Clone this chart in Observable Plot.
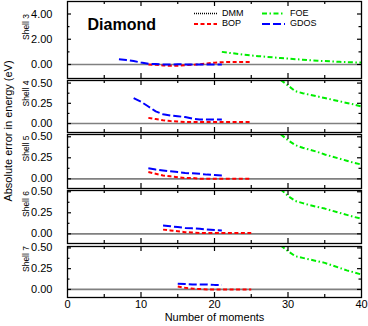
<!DOCTYPE html>
<html><head><meta charset="utf-8">
<script src="https://cdn.jsdelivr.net/npm/d3@7"></script>
<script src="https://cdn.jsdelivr.net/npm/@observablehq/plot@0.6"></script>
<style>
body{margin:0;background:#fff;font-family:"Liberation Sans",Arial,Helvetica,sans-serif;}
#chart{position:relative;width:368px;height:326px;overflow:hidden;background:#fff;}
</style></head><body><div id="chart"></div>
<script>
// ---- data ----
const shellLabels = ["Shell 3", "Shell 4", "Shell 5", "Shell 6", "Shell 7"];
const xTickLabels = [0, 10, 20, 30, 40];
const seriesNames = ["DMM", "BOP", "FOE", "GDOS"];

const dmmX = [0, 10, 20, 30, 40];
const dmmY = [0, 0, 0, 0, 0];

const bopX3 = [11, 12, 13, 14, 15, 16, 17, 18, 19, 20, 21, 22, 23, 24, 25];
const bopY3 = [0.0, -0.02, -0.08, -0.1, -0.1, -0.06, -0.02, 0.02, 0.08, 0.14, 0.18, 0.2, 0.2, 0.2, 0.2];
const gdosX3 = [7, 8, 9, 10, 11, 12, 13, 14, 15, 16, 17, 18, 19, 20, 21];
const gdosY3 = [0.42, 0.35, 0.28, 0.15, 0.06, 0.03, 0.0, 0.0, 0.02, 0.0, 0.0, 0.0, 0.0, 0.0, 0.0];
const foeX3 = [21, 22, 23, 24, 25, 26, 27, 28, 29, 30, 31, 32, 33, 34, 35, 36, 37, 38, 39, 40];
const foeY3 = [1.0, 0.92, 0.85, 0.78, 0.72, 0.66, 0.61, 0.56, 0.51, 0.47, 0.42, 0.38, 0.34, 0.3, 0.27, 0.24, 0.21, 0.19, 0.17, 0.15];

const bopX4 = [11, 12, 13, 14, 15, 16, 17, 18, 19, 20, 21, 22, 23, 24, 25];
const bopY4 = [0.07, 0.055, 0.04, 0.03, 0.025, 0.02, 0.02, 0.02, 0.02, 0.02, 0.02, 0.02, 0.02, 0.02, 0.02];
const gdosX4 = [9, 10, 11, 12, 13, 14, 15, 16, 17, 18, 19, 20, 21];
const gdosY4 = [0.315, 0.27, 0.21, 0.15, 0.115, 0.1, 0.09, 0.08, 0.06, 0.05, 0.05, 0.05, 0.05];
const foeX4 = [29, 30, 31, 32, 33, 34, 35, 36, 37, 38, 39, 40];
const foeY4 = [0.54, 0.47, 0.40, 0.375, 0.355, 0.335, 0.315, 0.295, 0.275, 0.255, 0.235, 0.21];

const bopX5 = [11, 12, 13, 14, 15, 16, 17, 18, 19, 20, 21, 22, 23, 24, 25];
const bopY5 = [0.08, 0.06, 0.04, 0.03, 0.02, 0.01, 0.01, 0.0, 0.0, 0.0, 0.0, 0.0, 0.0, 0.0, 0.0];
const gdosX5 = [11, 12, 13, 14, 15, 16, 17, 18, 19, 20, 21];
const gdosY5 = [0.125, 0.11, 0.1, 0.09, 0.08, 0.07, 0.065, 0.06, 0.05, 0.045, 0.04];
const foeX5 = [29, 30, 31, 32, 33, 34, 35, 36, 37, 38, 39, 40];
const foeY5 = [0.53, 0.46, 0.40, 0.37, 0.345, 0.32, 0.29, 0.265, 0.24, 0.215, 0.19, 0.17];

const bopX6 = [13, 14, 15, 16, 17, 18, 19, 20, 21, 22, 23, 24, 25];
const bopY6 = [0.05, 0.04, 0.03, 0.02, 0.015, 0.01, 0.01, 0.01, 0.01, 0.01, 0.01, 0.01, 0.01];
const gdosX6 = [13, 14, 15, 16, 17, 18, 19, 20, 21];
const gdosY6 = [0.1, 0.09, 0.08, 0.07, 0.065, 0.06, 0.05, 0.045, 0.04];
const foeX6 = [29, 30, 31, 32, 33, 34, 35, 36, 37, 38, 39, 40];
const foeY6 = [0.53, 0.45, 0.39, 0.365, 0.34, 0.32, 0.3, 0.275, 0.25, 0.225, 0.2, 0.18];

const bopX7 = [15, 16, 17, 18, 19, 20, 21, 22, 23, 24, 25];
const bopY7 = [0.035, 0.02, 0.01, 0.005, 0.0, 0.0, 0.0, 0.0, 0.0, 0.0, 0.0];
const gdosX7 = [15, 16, 17, 18, 19, 20, 21];
const gdosY7 = [0.07, 0.065, 0.06, 0.06, 0.06, 0.055, 0.055];
const foeX7 = [29, 30, 31, 32, 33, 34, 35, 36, 37, 38, 39, 40];
const foeY7 = [0.53, 0.46, 0.40, 0.38, 0.36, 0.34, 0.32, 0.29, 0.26, 0.23, 0.205, 0.18];

// ---- build ----
const pts = (xs, ys) => xs.map((x, i) => ({x, y: ys[i]}));
const FONT = "Liberation Sans, Arial, Helvetica, sans-serif";
const colors = {DMM: "#000000", BOP: "#ff0000", FOE: "#00ee00", GDOS: "#0000ff"};
const dashes = {DMM: "1 1", BOP: "4 2.5", FOE: "5 2.5 1.5 2.5", GDOS: "8 3"};
const widths = {DMM: 1.7, BOP: 2, FOE: 2, GDOS: 2};

const panels = [
  {top: 1, bottom: 78, domain: [-1.11, 4.99], major: [0, 2, 4], minor: [1, 3],
   bop: pts(bopX3, bopY3), gdos: pts(gdosX3, gdosY3), foe: pts(foeX3, foeY3)},
  {top: 80, bottom: 132, domain: [-0.111, 0.532], major: [0, 0.25, 0.5], minor: [0.125, 0.375],
   bop: pts(bopX4, bopY4), gdos: pts(gdosX4, gdosY4), foe: pts(foeX4, foeY4)},
  {top: 134, bottom: 188, domain: [-0.115, 0.527], major: [0, 0.25, 0.5], minor: [0.125, 0.375],
   bop: pts(bopX5, bopY5), gdos: pts(gdosX5, gdosY5), foe: pts(foeX5, foeY5)},
  {top: 190, bottom: 243, domain: [-0.115, 0.515], major: [0, 0.25, 0.5], minor: [0.125, 0.375],
   bop: pts(bopX6, bopY6), gdos: pts(gdosX6, gdosY6), foe: pts(foeX6, foeY6)},
  {top: 246, bottom: 297, domain: [-0.097, 0.517], major: [0, 0.25, 0.5], minor: [0.125, 0.375],
   bop: pts(bopX7, bopY7), gdos: pts(gdosX7, gdosY7), foe: pts(foeX7, foeY7)}
];

const W = 368, ML = 67, MR = 7, PAD = 2;
const FW = W - ML - MR;
const xMajor = [10, 20, 30], xMinor = [5, 15, 25, 35];
const chart = document.getElementById("chart");
const dmm = pts(dmmX, dmmY);

panels.forEach((p, i) => {
  const last = i === panels.length - 1;
  const fh = p.bottom - p.top;
  const mb = last ? PAD + 30 : PAD;
  const ln = (data, name) => Plot.line(data, {x: "x", y: "y", stroke: colors[name],
    strokeWidth: widths[name], strokeDasharray: dashes[name], clip: true,
    strokeLinecap: "butt"});
  const marks = [
    ln(dmm, "DMM"),
    ln(p.bop, "BOP"),
    ln(p.gdos, "GDOS"),
    ln(p.foe, "FOE"),
    Plot.frame({stroke: "black", strokeWidth: 1.3}),
    Plot.tickY(p.major, {y: d => d, insetRight: FW - 4, stroke: "black", strokeWidth: 1.2}),
    Plot.tickY(p.minor, {y: d => d, insetRight: FW - 2.5, stroke: "black", strokeWidth: 1.2}),
    Plot.tickY(p.major, {y: d => d, insetLeft: FW - 4, stroke: "black", strokeWidth: 1.2}),
    Plot.tickY(p.minor, {y: d => d, insetLeft: FW - 2.5, stroke: "black", strokeWidth: 1.2}),
    Plot.tickX(xMajor, {x: d => d, insetBottom: fh - 5, stroke: "black", strokeWidth: 1.2}),
    Plot.tickX(xMinor, {x: d => d, insetBottom: fh - 3, stroke: "black", strokeWidth: 1.2}),
    Plot.tickX(xMajor, {x: d => d, insetTop: fh - 5, stroke: "black", strokeWidth: 1.2}),
    Plot.tickX(xMinor, {x: d => d, insetTop: fh - 3, stroke: "black", strokeWidth: 1.2}),
    Plot.axisY(p.major, {tickSize: 0, tickPadding: 15, tickFormat: d3.format(".2f"),
      fontSize: 11, label: null, fill: "black"}),
    Plot.text([shellLabels[i]], {text: d => d, frameAnchor: "left", dx: -41, rotate: -90,
      fontSize: 8.5, fill: "black"})
  ];
  if (i === 0) {
    marks.push(Plot.text(["Diamond"], {text: d => d, frameAnchor: "top-left", dx: 20, dy: 17,
      textAnchor: "start", fontSize: 16, fontWeight: "bold", fill: "black"}));
  }
  if (last) {
    marks.push(Plot.axisX(xTickLabels, {tickSize: 0, tickPadding: 3, fontSize: 11, label: null, fill: "black"}));
    marks.push(Plot.text(["Number of moments"], {text: d => d, frameAnchor: "bottom", dy: 23,
      fontSize: 11, fill: "black"}));
  }
  const svg = Plot.plot({
    width: W, height: fh + PAD + mb,
    marginLeft: ML, marginRight: MR, marginTop: PAD, marginBottom: mb,
    x: {domain: [0, 40], axis: last ? undefined : null},
    y: {domain: p.domain},
    style: `position:absolute;left:0;top:${p.top - PAD}px;background:transparent;overflow:visible;font-family:${FONT};`,
    marks
  });
  chart.appendChild(svg);
});

// overlay: y-axis title and legend
const ov = d3.select(chart).append("svg")
  .attr("width", W).attr("height", 326)
  .style("position", "absolute").style("left", "0px").style("top", "0px")
  .style("overflow", "visible").style("font-family", FONT);
ov.append("text").attr("transform", "translate(9,131) rotate(-90)")
  .attr("text-anchor", "middle").attr("dominant-baseline", "middle")
  .attr("font-size", 11).text("Absolute error in energy (eV)");

const legendPos = {DMM: [194, 13.5], BOP: [194, 24], FOE: [262, 13.5], GDOS: [262, 24]};
seriesNames.forEach(n => {
  const [lx, ly] = legendPos[n];
  ov.append("line").attr("x1", lx).attr("x2", lx + 23).attr("y1", ly).attr("y2", ly)
    .attr("stroke", colors[n]).attr("stroke-width", widths[n]).attr("stroke-dasharray", dashes[n]);
  ov.append("text").attr("x", lx + 28).attr("y", ly).attr("dominant-baseline", "middle")
    .attr("font-size", 9).text(n);
});
</script>
</body></html>
